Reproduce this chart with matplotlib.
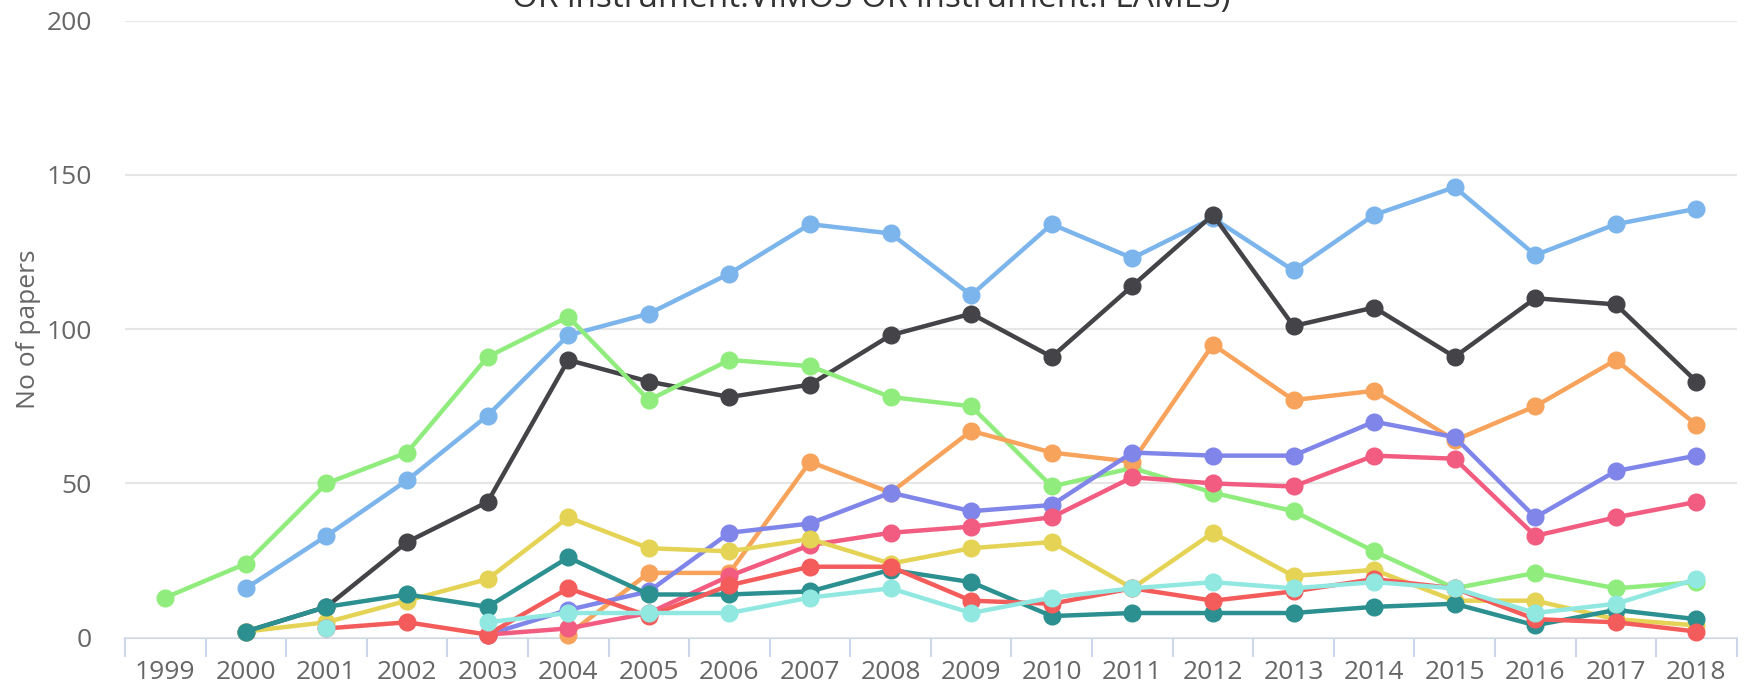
import numpy as np
import matplotlib
matplotlib.use("Agg")
import matplotlib.pyplot as plt

plt.rcParams['font.family'] = ['Open Sans', 'DejaVu Sans']

years = [str(y) for y in range(1999, 2019)]

# one list per series, None = no value that year
blue = [None, 16, 33, 51, 72, 98, 105, 118, 134, 131, 111, 134, 123, 136, 119, 137, 146, 124, 134, 139]
black = [None, 2, 10, 31, 44, 90, 83, 78, 82, 98, 105, 91, 114, 137, 101, 107, 91, 110, 108, 83]
green = [13, 24, 50, 60, 91, 104, 77, 90, 88, 78, 75, 49, 55, 47, 41, 28, 16, 21, 16, 18]
orange = [None, None, None, None, None, 1, 21, 21, 57, 47, 67, 60, 57, 95, 77, 80, 64, 75, 90, 69]
purple = [None, None, None, None, 1, 9, 15, 34, 37, 47, 41, 43, 60, 59, 59, 70, 65, 39, 54, 59]
pink = [None, None, None, None, 1, 3, 8, 20, 30, 34, 36, 39, 52, 50, 49, 59, 58, 33, 39, 44]
yellow = [None, 2, 5, 12, 19, 39, 29, 28, 32, 24, 29, 31, 16, 34, 20, 22, 12, 12, 6, 4]
teal = [None, 2, 10, 14, 10, 26, 14, 14, 15, 22, 18, 7, 8, 8, 8, 10, 11, 4, 9, 6]
red = [None, None, 3, 5, 1, 16, 7, 17, 23, 23, 12, 11, 16, 12, 15, 19, 16, 6, 5, 2]
cyan = [None, None, 3, None, 5, 8, 8, 8, 13, 16, 8, 13, 16, 18, 16, 18, 16, 8, 11, 19]

series = [blue, black, green, orange, purple, pink, yellow, teal, red, cyan]
colors = ['#7cb5ec', '#434348', '#90ed7d', '#f7a35c', '#8085e9',
          '#f15c80', '#e4d354', '#2b908f', '#f45b5b', '#91e8e1']

fig = plt.figure(figsize=(17.46, 6.84), dpi=100)
ax = fig.add_axes([0.0716, 0.0677, 0.9231, 0.9023])

x = np.arange(len(years))
for vals, c in zip(series, colors):
    y = np.array([np.nan if v is None else v for v in vals], dtype=float)
    ax.plot(x, y, color=c, lw=3.2, marker='o', ms=12, mec=c, mfc=c,
            solid_joinstyle='round', clip_on=False)

ax.set_xlim(-0.5, len(years) - 0.5)
ax.set_ylim(0, 200)
ax.set_yticks([0, 50, 100, 150, 200])
ax.grid(axis='y', color='#e6e6e6', lw=1.5)
ax.set_axisbelow(True)

for s in ['left', 'right', 'top']:
    ax.spines[s].set_visible(False)
ax.spines['bottom'].set_color('#ccd6eb')
ax.spines['bottom'].set_linewidth(1.5)
ax.spines['bottom'].set_zorder(0.5)

ax.set_xticks(x)
ax.set_xticklabels(years)
ax.set_xticks(np.arange(-0.5, len(years)), minor=True)
ax.tick_params(axis='x', which='major', length=0, pad=16, labelsize=19, labelcolor='#666666')
ax.tick_params(axis='x', which='minor', length=14, width=1.5, color='#ccd6eb')
ax.tick_params(axis='y', length=0, pad=24, labelsize=19, labelcolor='#666666')

ax.set_ylabel('No of papers', fontsize=19, color='#666666')
ax.yaxis.set_label_coords(-0.052, 0.5)

fig.text(0.499, 0.9898, 'OR instrument:VIMOS OR instrument:FLAMES)', ha='center', va='baseline',
         fontsize=24, color='#333333')

fig.savefig('out.png', dpi=100)
